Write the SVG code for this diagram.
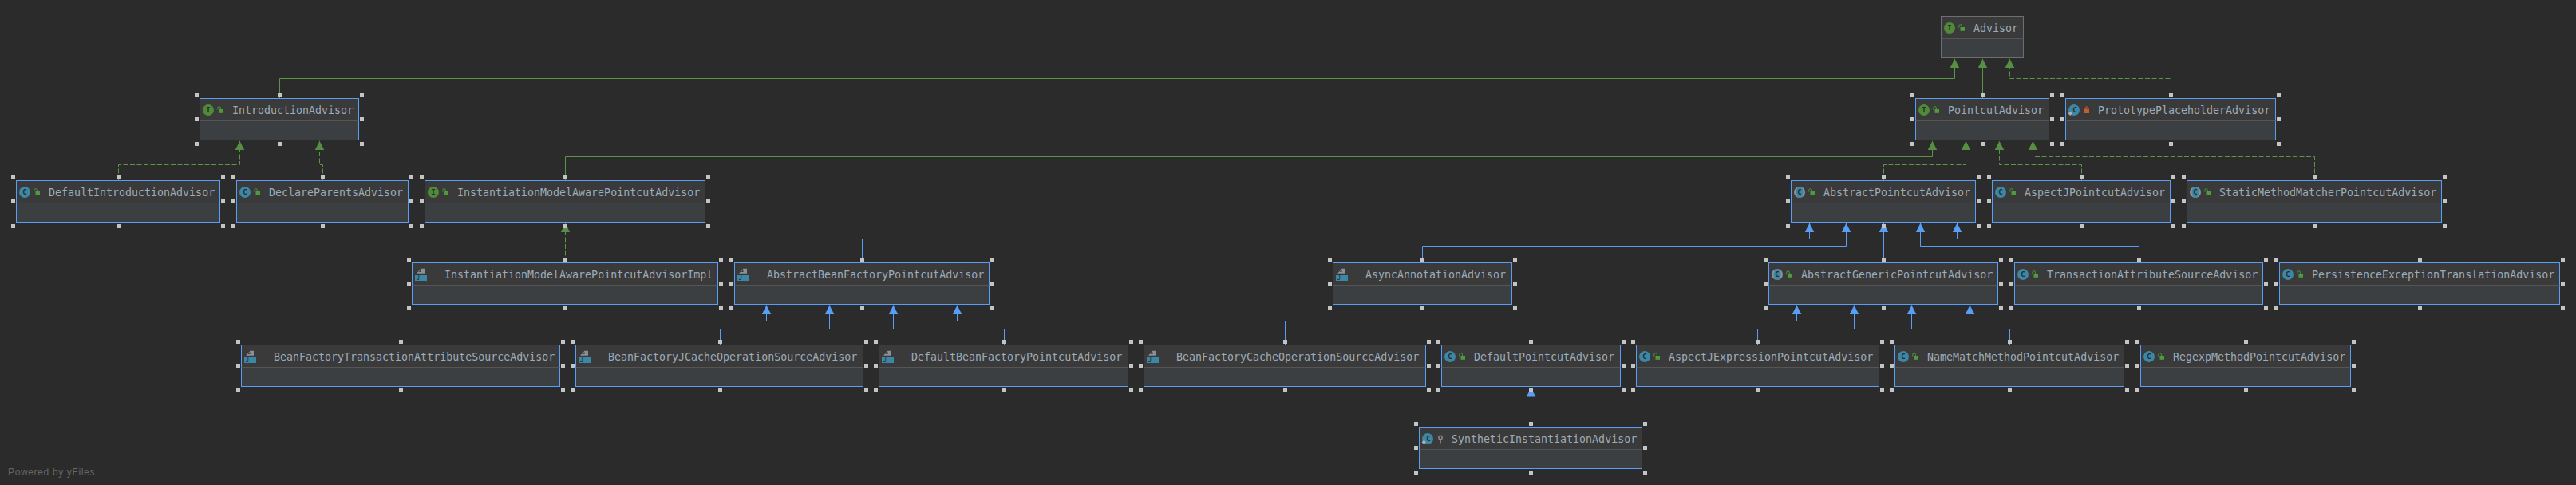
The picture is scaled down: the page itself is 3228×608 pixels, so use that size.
<svg xmlns="http://www.w3.org/2000/svg" width="3228" height="608" viewBox="0 0 3228 608">
<style>
.bg{fill:#2b2b2b}
.b{fill:#3c3f41;stroke:#589df6;stroke-width:1}
.g{stroke:#6e6e6e}
.hd{fill:#3a3a3a;stroke:none}
.dv{stroke:#555;stroke-width:1;fill:none}
.hn{stroke:#c4c4c4;stroke-width:5;stroke-linecap:square;fill:none}
.t{font-family:"DejaVu Sans Mono","Liberation Mono",monospace;font-size:13.3px;fill:#9dabb9}
.il{font-family:"DejaVu Sans Mono","Liberation Mono",monospace;font-size:9px;font-weight:bold;text-anchor:middle;fill:#2b2b2b}
.wm{font-family:"Liberation Sans",Arial,sans-serif;font-size:12px;letter-spacing:.65px;fill:#666}
.e{fill:none;stroke-width:1}
.eg{stroke:#5a9645;marker-end:url(#ag)}
.ed{stroke-dasharray:6 2.5}
.eb{stroke:#589df6;marker-end:url(#ab)}
</style>
<defs>
<marker id="ag" markerUnits="userSpaceOnUse" markerWidth="12" markerHeight="12" refX="11.5" refY="6" orient="auto" viewBox="0 0 12 12"><path d="M0 .2L11.5 6L0 11.8z" fill="#568f42"/></marker>
<marker id="ab" markerUnits="userSpaceOnUse" markerWidth="12" markerHeight="12" refX="11.5" refY="6" orient="auto" viewBox="0 0 12 12"><path d="M0 .2L11.5 6L0 11.8z" fill="#589df6"/></marker>
<g id="lk"><rect x="24" y="13.5" width="5.5" height="4.8" fill="#4f9a3c"/><path d="M22.3 14v-2a1.8 1.8 0 0 1 3.6 0v1.5" fill="none" stroke="#4f9a3c" stroke-width="1"/></g>
<g id="ii"><circle cx="10.5" cy="14.5" r="7" fill="#4f8a3a"/><text class="il" x="10.5" y="17.6">I</text><use href="#lk"/></g>
<g id="ic"><circle cx="10.5" cy="14.5" r="7" fill="#3b87a5"/><text class="il" x="10.5" y="17.6">C</text><use href="#lk"/></g>
<g id="ia"><circle cx="10.5" cy="14.5" r="7" fill="#8a9099"/><ellipse cx="10.5" cy="14.5" rx="4.5" ry="7" fill="#3b87a5"/><text class="il" x="10.5" y="17.6">C</text><use href="#lk"/></g>
<g id="icd"><circle cx="10.5" cy="14.5" r="7" fill="#3b87a5"/><text class="il" x="11.5" y="17">C</text><path d="M5.8 16l2.8 2.8L5.8 21.6L3 18.8z" fill="#a9adb0"/></g>
<g id="ij"><path d="M5.5 13.2L11 7.2H15.5V13.2z" fill="#8b9197"/><path d="M8 11.5L11 8.5V11.5z" fill="#3a3a3a"/><rect x="3.5" y="15.5" width="15" height="7" fill="#3b87a5"/><text class="il" x="7.5" y="21.8" style="font-size:8px;font-weight:normal">J</text></g>
</defs>
<rect class="bg" width="3228" height="608"/>
<g id="connectors">
<path class="e eg" d="M350.5 123V98.5H2449.5V73.7"/>
<path class="e eg" d="M2484.5 123V73.7"/>
<path class="e eg" d="M708.5 226V196.5H2421.5V176.7"/>
<path class="e eg ed" d="M2720.5 123V98.5H2518.5V73.7"/>
<path class="e eg ed" d="M148.5 226V206.5H300.5V176.7"/>
<path class="e eg ed" d="M404.5 226V206.5H400.5V176.7"/>
<path class="e eg ed" d="M2360.5 226V206.5H2463.5V176.7"/>
<path class="e eg ed" d="M2608.5 226V206.5H2505.5V176.7"/>
<path class="e eg ed" d="M2900.5 226V196.5H2547.5V176.7"/>
<path class="e eg ed" d="M708.5 329V279.7"/>
<path class="e eb" d="M1080.5 329V299.5H2267.5V279.5"/>
<path class="e eb" d="M1782.5 329V309.5H2313.5V279.5"/>
<path class="e eb" d="M2360.5 329V279.5"/>
<path class="e eb" d="M2680.5 329V309.5H2406.5V279.5"/>
<path class="e eb" d="M3032.5 329V299.5H2452.5V279.5"/>
<path class="e eb" d="M502.5 432V402.5H960.5V382.5"/>
<path class="e eb" d="M902.5 432V412.5H1039.5V382.5"/>
<path class="e eb" d="M1258.5 432V412.5H1119.5V382.5"/>
<path class="e eb" d="M1610.5 432V402.5H1199.5V382.5"/>
<path class="e eb" d="M1918.5 432V402.5H2251.5V382.5"/>
<path class="e eb" d="M2202.5 432V412.5H2323.5V382.5"/>
<path class="e eb" d="M2518.5 432V412.5H2395.5V382.5"/>
<path class="e eb" d="M2814.5 432V402.5H2468.5V382.5"/>
<path class="e eb" d="M1918.5 535V486"/>
</g>
<g id="Advisor" transform="translate(2432.5 20.5)"><rect class="b g" width="103" height="52"/><rect class="hd" x=".5" y=".5" width="102" height="27.5"/><path class="dv" d="M0 28h103"/><use href="#ii"/><text class="t" x="40.5" y="19">Advisor</text></g>
<g id="IntroductionAdvisor" transform="translate(250.5 123.5)"><rect class="b" width="199" height="52"/><rect class="hd" x=".5" y=".5" width="198" height="27.5"/><path class="dv" d="M0 28h199"/><path class="hn" d="M-4-4h0M100-4h0M203-4h0M-4 26h0M203 26h0M-4 57h0M100 57h0M203 57h0"/><use href="#ii"/><text class="t" x="40.5" y="19">IntroductionAdvisor</text></g>
<g id="DefaultIntroductionAdvisor" transform="translate(20.5 226.5)"><rect class="b" width="255" height="52"/><rect class="hd" x=".5" y=".5" width="254" height="27.5"/><path class="dv" d="M0 28h255"/><path class="hn" d="M-4-4h0M128-4h0M259-4h0M-4 26h0M259 26h0M-4 57h0M128 57h0M259 57h0"/><use href="#ic"/><text class="t" x="40.5" y="19">DefaultIntroductionAdvisor</text></g>
<g id="DeclareParentsAdvisor" transform="translate(296.5 226.5)"><rect class="b" width="215" height="52"/><rect class="hd" x=".5" y=".5" width="214" height="27.5"/><path class="dv" d="M0 28h215"/><path class="hn" d="M-4-4h0M108-4h0M219-4h0M-4 26h0M219 26h0M-4 57h0M108 57h0M219 57h0"/><use href="#ic"/><text class="t" x="40.5" y="19">DeclareParentsAdvisor</text></g>
<g id="InstantiationModelAwarePointcutAdvisor" transform="translate(532.5 226.5)"><rect class="b" width="351" height="52"/><rect class="hd" x=".5" y=".5" width="350" height="27.5"/><path class="dv" d="M0 28h351"/><path class="hn" d="M-4-4h0M176-4h0M355-4h0M-4 26h0M355 26h0M-4 57h0M176 57h0M355 57h0"/><use href="#ii"/><text class="t" x="40.5" y="19">InstantiationModelAwarePointcutAdvisor</text></g>
<g id="PointcutAdvisor" transform="translate(2400.5 123.5)"><rect class="b" width="167" height="52"/><rect class="hd" x=".5" y=".5" width="166" height="27.5"/><path class="dv" d="M0 28h167"/><path class="hn" d="M-4-4h0M84-4h0M171-4h0M-4 26h0M171 26h0M-4 57h0M84 57h0M171 57h0"/><use href="#ii"/><text class="t" x="40.5" y="19">PointcutAdvisor</text></g>
<g id="PrototypePlaceholderAdvisor" transform="translate(2588.5 123.5)"><rect class="b" width="263" height="52"/><rect class="hd" x=".5" y=".5" width="262" height="27.5"/><path class="dv" d="M0 28h263"/><path class="hn" d="M-4-4h0M132-4h0M267-4h0M-4 26h0M267 26h0M-4 57h0M132 57h0M267 57h0"/><use href="#icd"/><rect x="23.5" y="13" width="6" height="5.5" fill="#c75b2e"/><path d="M24.8 13.5v-1.5a1.7 1.7 0 0 1 3.4 0v1.5" fill="none" stroke="#c75b2e"/><text class="t" x="40.5" y="19">PrototypePlaceholderAdvisor</text></g>
<g id="AbstractPointcutAdvisor" transform="translate(2244.5 226.5)"><rect class="b" width="231" height="52"/><rect class="hd" x=".5" y=".5" width="230" height="27.5"/><path class="dv" d="M0 28h231"/><path class="hn" d="M-4-4h0M116-4h0M235-4h0M-4 26h0M235 26h0M-4 57h0M116 57h0M235 57h0"/><use href="#ia"/><text class="t" x="40.5" y="19">AbstractPointcutAdvisor</text></g>
<g id="AspectJPointcutAdvisor" transform="translate(2496.5 226.5)"><rect class="b" width="223" height="52"/><rect class="hd" x=".5" y=".5" width="222" height="27.5"/><path class="dv" d="M0 28h223"/><path class="hn" d="M-4-4h0M112-4h0M227-4h0M-4 26h0M227 26h0M-4 57h0M112 57h0M227 57h0"/><use href="#ic"/><text class="t" x="40.5" y="19">AspectJPointcutAdvisor</text></g>
<g id="StaticMethodMatcherPointcutAdvisor" transform="translate(2740.5 226.5)"><rect class="b" width="319" height="52"/><rect class="hd" x=".5" y=".5" width="318" height="27.5"/><path class="dv" d="M0 28h319"/><path class="hn" d="M-4-4h0M160-4h0M323-4h0M-4 26h0M323 26h0M-4 57h0M160 57h0M323 57h0"/><use href="#ia"/><text class="t" x="40.5" y="19">StaticMethodMatcherPointcutAdvisor</text></g>
<g id="InstantiationModelAwarePointcutAdvisorImpl" transform="translate(516.5 329.5)"><rect class="b" width="383" height="52"/><rect class="hd" x=".5" y=".5" width="382" height="27.5"/><path class="dv" d="M0 28h383"/><path class="hn" d="M-4-4h0M192-4h0M387-4h0M-4 26h0M387 26h0M-4 57h0M192 57h0M387 57h0"/><use href="#ij"/><text class="t" x="40.5" y="19">InstantiationModelAwarePointcutAdvisorImpl</text></g>
<g id="AbstractBeanFactoryPointcutAdvisor" transform="translate(920.5 329.5)"><rect class="b" width="319" height="52"/><rect class="hd" x=".5" y=".5" width="318" height="27.5"/><path class="dv" d="M0 28h319"/><path class="hn" d="M-4-4h0M160-4h0M323-4h0M-4 26h0M323 26h0M-4 57h0M160 57h0M323 57h0"/><use href="#ij"/><text class="t" x="40.5" y="19">AbstractBeanFactoryPointcutAdvisor</text></g>
<g id="AsyncAnnotationAdvisor" transform="translate(1670.5 329.5)"><rect class="b" width="224" height="52"/><rect class="hd" x=".5" y=".5" width="223" height="27.5"/><path class="dv" d="M0 28h224"/><path class="hn" d="M-4-4h0M112-4h0M228-4h0M-4 26h0M228 26h0M-4 57h0M112 57h0M228 57h0"/><use href="#ij"/><text class="t" x="40.5" y="19">AsyncAnnotationAdvisor</text></g>
<g id="AbstractGenericPointcutAdvisor" transform="translate(2216.5 329.5)"><rect class="b" width="287" height="52"/><rect class="hd" x=".5" y=".5" width="286" height="27.5"/><path class="dv" d="M0 28h287"/><path class="hn" d="M-4-4h0M144-4h0M291-4h0M-4 26h0M291 26h0M-4 57h0M144 57h0M291 57h0"/><use href="#ia"/><text class="t" x="40.5" y="19">AbstractGenericPointcutAdvisor</text></g>
<g id="TransactionAttributeSourceAdvisor" transform="translate(2524.5 329.5)"><rect class="b" width="311" height="52"/><rect class="hd" x=".5" y=".5" width="310" height="27.5"/><path class="dv" d="M0 28h311"/><path class="hn" d="M-4-4h0M156-4h0M315-4h0M-4 26h0M315 26h0M-4 57h0M156 57h0M315 57h0"/><use href="#ic"/><text class="t" x="40.5" y="19">TransactionAttributeSourceAdvisor</text></g>
<g id="PersistenceExceptionTranslationAdvisor" transform="translate(2856.5 329.5)"><rect class="b" width="351" height="52"/><rect class="hd" x=".5" y=".5" width="350" height="27.5"/><path class="dv" d="M0 28h351"/><path class="hn" d="M-4-4h0M176-4h0M355-4h0M-4 26h0M355 26h0M-4 57h0M176 57h0M355 57h0"/><use href="#ic"/><text class="t" x="40.5" y="19">PersistenceExceptionTranslationAdvisor</text></g>
<g id="BeanFactoryTransactionAttributeSourceAdvisor" transform="translate(302.5 432.5)"><rect class="b" width="399" height="52"/><rect class="hd" x=".5" y=".5" width="398" height="27.5"/><path class="dv" d="M0 28h399"/><path class="hn" d="M-4-4h0M200-4h0M403-4h0M-4 26h0M403 26h0M-4 57h0M200 57h0M403 57h0"/><use href="#ij"/><text class="t" x="40.5" y="19">BeanFactoryTransactionAttributeSourceAdvisor</text></g>
<g id="BeanFactoryJCacheOperationSourceAdvisor" transform="translate(721.5 432.5)"><rect class="b" width="360" height="52"/><rect class="hd" x=".5" y=".5" width="359" height="27.5"/><path class="dv" d="M0 28h360"/><path class="hn" d="M-4-4h0M181-4h0M364-4h0M-4 26h0M364 26h0M-4 57h0M181 57h0M364 57h0"/><use href="#ij"/><text class="t" x="40.5" y="19">BeanFactoryJCacheOperationSourceAdvisor</text></g>
<g id="DefaultBeanFactoryPointcutAdvisor" transform="translate(1101.5 432.5)"><rect class="b" width="312" height="52"/><rect class="hd" x=".5" y=".5" width="311" height="27.5"/><path class="dv" d="M0 28h312"/><path class="hn" d="M-4-4h0M157-4h0M316-4h0M-4 26h0M316 26h0M-4 57h0M157 57h0M316 57h0"/><use href="#ij"/><text class="t" x="40.5" y="19">DefaultBeanFactoryPointcutAdvisor</text></g>
<g id="BeanFactoryCacheOperationSourceAdvisor" transform="translate(1433.5 432.5)"><rect class="b" width="353" height="52"/><rect class="hd" x=".5" y=".5" width="352" height="27.5"/><path class="dv" d="M0 28h353"/><path class="hn" d="M-4-4h0M177-4h0M357-4h0M-4 26h0M357 26h0M-4 57h0M177 57h0M357 57h0"/><use href="#ij"/><text class="t" x="40.5" y="19">BeanFactoryCacheOperationSourceAdvisor</text></g>
<g id="DefaultPointcutAdvisor" transform="translate(1806.5 432.5)"><rect class="b" width="224" height="52"/><rect class="hd" x=".5" y=".5" width="223" height="27.5"/><path class="dv" d="M0 28h224"/><path class="hn" d="M-4-4h0M112-4h0M228-4h0M-4 26h0M228 26h0M-4 57h0M112 57h0M228 57h0"/><use href="#ic"/><text class="t" x="40.5" y="19">DefaultPointcutAdvisor</text></g>
<g id="AspectJExpressionPointcutAdvisor" transform="translate(2050.5 432.5)"><rect class="b" width="304" height="52"/><rect class="hd" x=".5" y=".5" width="303" height="27.5"/><path class="dv" d="M0 28h304"/><path class="hn" d="M-4-4h0M152-4h0M308-4h0M-4 26h0M308 26h0M-4 57h0M152 57h0M308 57h0"/><use href="#ic"/><text class="t" x="40.5" y="19">AspectJExpressionPointcutAdvisor</text></g>
<g id="NameMatchMethodPointcutAdvisor" transform="translate(2374.5 432.5)"><rect class="b" width="287" height="52"/><rect class="hd" x=".5" y=".5" width="286" height="27.5"/><path class="dv" d="M0 28h287"/><path class="hn" d="M-4-4h0M144-4h0M291-4h0M-4 26h0M291 26h0M-4 57h0M144 57h0M291 57h0"/><use href="#ic"/><text class="t" x="40.5" y="19">NameMatchMethodPointcutAdvisor</text></g>
<g id="RegexpMethodPointcutAdvisor" transform="translate(2682.5 432.5)"><rect class="b" width="263" height="52"/><rect class="hd" x=".5" y=".5" width="262" height="27.5"/><path class="dv" d="M0 28h263"/><path class="hn" d="M-4-4h0M132-4h0M267-4h0M-4 26h0M267 26h0M-4 57h0M132 57h0M267 57h0"/><use href="#ic"/><text class="t" x="40.5" y="19">RegexpMethodPointcutAdvisor</text></g>
<g id="SyntheticInstantiationAdvisor" transform="translate(1778.5 535.5)"><rect class="b" width="279" height="52"/><rect class="hd" x=".5" y=".5" width="278" height="27.5"/><path class="dv" d="M0 28h279"/><path class="hn" d="M-4-4h0M140-4h0M283-4h0M-4 26h0M283 26h0M-4 57h0M140 57h0M283 57h0"/><use href="#icd"/><circle cx="26.5" cy="13" r="2.2" fill="none" stroke="#8a8f94" stroke-width="1.4"/><path d="M26.5 15v5" stroke="#8a8f94" stroke-width="1.6"/><text class="t" x="40.5" y="19">SyntheticInstantiationAdvisor</text></g>
<text class="wm" x="10" y="596">Powered by yFiles</text>
</svg>
